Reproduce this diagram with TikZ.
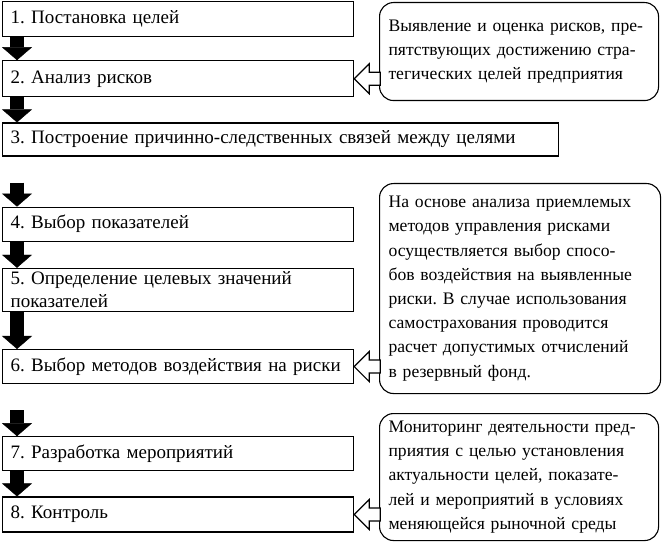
\documentclass[tikz,border=0pt]{standalone}
\usepackage{fontspec}
\setmainfont{Liberation Serif}
\usetikzlibrary{positioning,arrows.meta}
\frenchspacing
\tikzset{
  etap/.style={draw, line width=1.2pt, text width=335pt, minimum height=35pt,
    inner xsep=8pt, inner ysep=1pt, align=left,
    font=\fontsize{19pt}{23pt}\selectfont},
  vynoska/.style={draw, line width=1.1pt, rounded corners=14pt, text width=261pt,
    inner xsep=9pt, align=left, anchor=north west,
    font=\fontsize{17.6pt}{24.2pt}\selectfont},
  strelka/.style={line width=14pt, -{Triangle[length=13pt, width=30pt, line width=0.4pt]}},
  polaya/.style={draw, fill=white, line width=1.2pt, line join=miter},
}

\begin{document}
\begin{tikzpicture}
  \useasboundingbox (0,0) rectangle (662pt,-548pt);
  % этапы
  \node[etap, anchor=north west] (b1) at (2pt,-1pt) {1. Постановка целей};
  \node[etap, below=23pt of b1.south west, anchor=north west, minimum height=36pt] (b2) {2. Анализ рисков};
  \node[etap, below=25pt of b2.south west, anchor=north west, minimum height=33pt, text width=540pt] (b3) {3. Построение причинно-следственных связей между целями};
  \node[etap, below=50pt of b3.south west, anchor=north west, minimum height=34pt] (b4) {4. Выбор показателей};
  \node[etap, below=26pt of b4.south west, anchor=north west, minimum height=43pt] (b5) {5. Определение целевых значений\\показателей};
  \node[etap, below=37pt of b5.south west, anchor=north west, minimum height=34pt] (b6) {6. Выбор методов воздействия на риски};
  \node[etap, below=52pt of b6.south west, anchor=north west, minimum height=34pt] (b7) {7. Разработка мероприятий};
  \node[etap, below=25pt of b7.south west, anchor=north west] (b8) {8. Контроль};
  % выноски
  \node[vynoska, minimum height=98pt] (c1) at (379pt,-2pt)
    {Выявление и оценка рисков, пре-\\пятствующих достижению стра-\\тегических целей предприятия};
  \node[vynoska, minimum height=210pt, text width=263pt] (c2) at (379pt,-183pt)
    {На основе анализа приемлемых\\методов управления рисками\\осуществляется выбор спосо-\\бов воздействия на выявленные\\риски. В случае использования\\самострахования проводится\\расчет допустимых отчислений\\в резервный фонд.};
  \node[vynoska, minimum height=127pt] (c3) at (379pt,-413pt)
    {Мониторинг деятельности пред-\\приятия с целью установления\\актуальности целей, показате-\\лей и мероприятий в условиях\\меняющейся рыночной среды};
  % стрелки
  \draw[strelka] ([xshift=15pt]b1.south west) -- ([xshift=15pt]b2.north west);
  \draw[strelka] ([xshift=15pt]b2.south west) -- ([xshift=15pt]b3.north west);
  \draw[strelka] ([xshift=15pt,yshift=24pt]b4.north west) -- ([xshift=15pt]b4.north west);
  \draw[strelka] ([xshift=15pt]b4.south west) -- ([xshift=15pt]b5.north west);
  \draw[strelka] ([xshift=15pt]b5.south west) -- ([xshift=15pt]b6.north west);
  \draw[strelka] ([xshift=15pt,yshift=26pt]b7.north west) -- ([xshift=15pt]b7.north west);
  \draw[strelka] ([xshift=15pt]b7.south west) -- ([xshift=15pt]b8.north west);
  \draw[polaya] (b2.east) -- ++(15pt,15pt) -- ++(0,-8.5pt) -- ++(11pt,0) -- ++(0,-13pt) -- ++(-11pt,0) -- ++(0,-8.5pt) -- cycle;
  \draw[polaya] (b6.east) -- ++(15pt,15pt) -- ++(0,-8.5pt) -- ++(11pt,0) -- ++(0,-13pt) -- ++(-11pt,0) -- ++(0,-8.5pt) -- cycle;
  \draw[polaya] (b8.east) -- ++(15pt,15pt) -- ++(0,-8.5pt) -- ++(11pt,0) -- ++(0,-13pt) -- ++(-11pt,0) -- ++(0,-8.5pt) -- cycle;
\end{tikzpicture}
\end{document}
